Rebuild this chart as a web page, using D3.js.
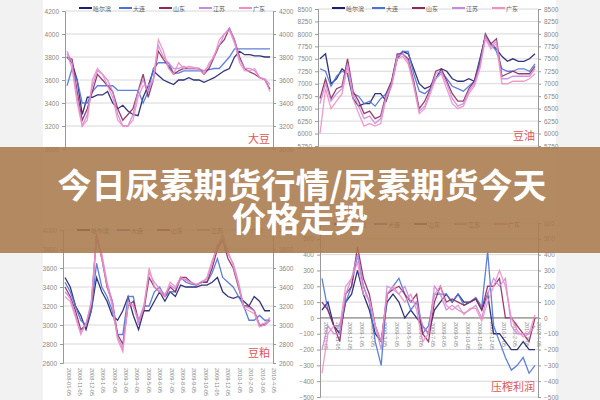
<!DOCTYPE html><html><head><meta charset="utf-8"><script src="https://d3js.org/d3.v7.min.js"></script>
<style>body{margin:0;background:#fff}</style></head><body><svg id="c" width="600" height="400"></svg>
<script>
const seriesNames=["哈尔滨","大连","山东","江苏","广东"];
const seriesColors=["#1c1f6b","#4d72d6","#8c2a5c","#c68be0","#f08fc4"];
const titleLines=["今日尿素期货行情/尿素期货今天","价格走势"];
// Panel 1 大豆
const p1Ticks=[3000,3200,3400,3600,3800,4000,4200];
const p1Hrb=[3800,3750,3600,3300,3450,3450,3470,3470,3500,3400,3350,3380,3330,3300,3290,3450,3550,3680,3640,3600,3580,3560,3600,3600,3620,3600,3600,3580,3600,3620,3650,3680,3700,3800,3850,3820,3820,3810,3810,3800,3800];
const p1Dl=[3550,3700,3600,3400,3400,3500,3550,3550,3550,3550,3510,3510,3510,3510,3510,3400,3500,3700,3750,3750,3750,3660,3660,3680,3680,3680,3680,3680,3690,3700,3700,3750,3800,3870,3870,3870,3870,3870,3870,3870,3870];
const p1Sd=[3800,3780,3500,3250,3350,3500,3650,3600,3550,3500,3350,3250,3300,3350,3500,3650,3450,3600,3850,3780,3720,3650,3680,3700,3700,3700,3700,3650,3700,3800,3900,3950,4050,3950,3800,3700,3670,3650,3620,3600,3520];
const p1Js=[3850,3750,3450,3200,3300,3550,3680,3650,3600,3500,3300,3200,3200,3300,3500,3600,3500,3600,3900,3800,3750,3700,3700,3720,3700,3700,3700,3680,3720,3820,3900,4000,4050,3950,3780,3700,3700,3680,3620,3610,3560];
const p1Gd=[3830,3700,3400,3200,3250,3600,3700,3650,3550,3450,3250,3200,3200,3250,3450,3550,3550,3600,3950,3850,3700,3650,3750,3700,3720,3710,3690,3650,3750,3800,3950,4000,4030,3920,3750,3680,3680,3700,3620,3600,3500];
// Panel 2 豆油
const p2Ticks=[5750,6000,6250,6500,6750,7000,7250,7500,7750,8000,8250,8500];
const p2Hrb=[7500,7600,7000,7100,7300,7200,6700,6550,6600,6600,6800,6800,6650,7000,7500,7650,7600,7300,7000,6900,6950,7100,7300,7250,7100,7050,7050,7100,7050,7500,7950,7800,7700,7550,7450,7500,7450,7450,7500,7600];
const p2Dl=[7300,7250,6950,7150,7250,7200,6800,6750,6600,6650,6550,6700,6800,7050,7550,7650,7650,7200,6850,6800,6900,7100,7250,7100,6950,6900,6850,6950,7050,7450,7950,7800,7650,7300,7250,7250,7300,7300,7250,7400];
const p2Sd=[6700,7100,6700,6900,6950,7500,6850,6650,6400,6450,6300,6350,6800,7050,7600,7600,7500,7050,6500,6650,6900,7250,7300,7050,6800,6650,6650,6900,7050,7400,8000,7800,7900,7150,7200,7250,7200,7200,7200,7350];
const p2Js=[6600,7000,6650,6800,6900,7400,6800,6550,6300,6350,6200,6300,6750,7000,7550,7600,7450,7000,6450,6550,6850,7200,7250,7000,6700,6550,6600,6850,7000,7350,7950,7750,7850,7100,7100,7150,7150,7150,7150,7300];
const p2Gd=[6000,6900,6500,6650,6800,7350,6700,6400,6150,6200,6150,6200,6700,6950,7500,7550,7400,6950,6400,6500,6800,7100,7200,6900,6600,6500,6550,6800,6950,7300,7900,7700,7800,7000,7000,7050,7050,7050,7100,7200];
// Panel 3 豆粕
const p3Ticks=[2600,2800,3000,3200,3400,3600,3800,4000];
const p3Dates=["08-01-05","08-11-05","08-12-05","09-1-05","09-2-05","09-3-05","09-4-05","09-5-05","09-6-05","09-7-05","09-8-05","09-9-05","09-10-05","09-11-05","09-12-05","10-1-05","10-2-05","10-3-05","10-4-05"];
const p3Hrb=[3500,3400,3200,3100,2950,3150,3500,3350,3250,3100,3050,3150,3300,3100,2950,3150,3150,3250,3350,3250,3350,3300,3420,3400,3400,3400,3420,3420,3450,3500,3350,3300,3280,3300,3250,3200,3300,3250,3150,3150];
const p3Dl=[3450,3350,3200,3050,3000,3150,3650,3400,3300,3150,2900,2900,3300,3300,3000,3200,3200,3350,3400,3300,3350,3350,3500,3450,3430,3420,3450,3450,3550,3700,3500,3450,3400,3300,3200,3050,3050,3100,3050,3050];
const p3Sd=[3400,3300,3150,2950,3000,3200,3950,3700,3400,3250,2900,2800,3200,3250,3050,3150,3500,3400,3350,3300,3400,3350,3500,3500,3450,3420,3450,3450,3600,3800,3900,3700,3600,3400,3200,3200,3150,3000,3000,3050];
const p3Js=[3350,3280,3100,2920,3000,3250,3900,3750,3450,3250,2880,2750,3250,3200,3050,3200,3550,3450,3380,3320,3420,3380,3480,3480,3450,3420,3460,3480,3650,3850,3900,3750,3650,3450,3200,3180,3150,3000,3020,3080];
const p3Gd=[3300,3250,3080,2900,3020,3220,3950,3700,3420,3200,2850,2720,3220,3200,3020,3180,3600,3400,3350,3300,3450,3400,3500,3470,3440,3430,3440,3500,3680,3820,3950,3780,3620,3420,3180,3150,3120,2980,3000,3050];
// Panel 4 压榨利润
const p4Ticks=[-500,-400,-300,-200,-100,0,100,200,300,400,500,600];
const p4Dates=["08-01-05","08-11-05","08-12-05","09-1-05","09-2-05","09-3-05","09-4-05","09-5-05","09-6-05","09-7-05","09-8-05","09-9-05","09-10-05","09-11-05","09-12-05","10-1-05","10-2-05","10-3-05","10-4-05"];
const p4Hrb=[50,100,-50,-100,100,150,300,150,50,-100,-150,100,150,100,0,50,0,-50,-100,50,100,150,100,150,100,100,120,50,150,-100,-100,-150,-200,-200,-150,-200,-200];
const p4Dl=[250,50,-50,-50,100,200,400,200,100,-150,-300,150,200,250,150,50,100,-100,-50,150,150,150,100,150,80,100,130,70,420,-50,-150,-250,-330,-300,-250,-350,-300];
const p4Sd=[100,50,-50,-150,150,200,450,250,150,-50,-150,150,180,200,150,100,150,-100,-150,100,200,100,120,100,80,100,120,50,200,200,250,0,0,-50,-100,-150,0];
const p4Js=[-200,-50,-100,-100,150,250,400,200,100,-50,-200,200,180,150,200,100,100,-50,-100,200,150,50,80,50,30,50,80,0,150,250,200,250,-50,-100,-100,-100,-50];
const p4Gd=[-350,-100,-50,-50,200,250,350,150,120,-50,-150,150,200,150,100,150,50,-150,-100,150,200,80,50,80,20,60,60,-20,100,200,300,200,0,-80,-120,-100,20];

const svg=d3.select("#c");
svg.append("rect").attr("width",600).attr("height",400).attr("fill","#fff");
svg.append("rect").attr("x",0).attr("width",43).attr("height",400).attr("fill","#f2f2f2");
svg.append("rect").attr("x",556).attr("width",44).attr("height",400).attr("fill","#f2f2f2");

function panel(o){
  const g=svg.append("g");
  const y=d3.scaleLinear().domain(o.dom).range(o.yr);
  const n=o.data[0].length;
  const x=d3.scaleLinear().domain([0,n-1]).range([o.x0+2,o.x1-3]);
  g.selectAll(".gl").data(o.ticks).join("line").attr("x1",o.x0).attr("x2",o.x1).attr("y1",d=>y(d)).attr("y2",d=>y(d)).attr("stroke","#d8d8d8").attr("stroke-width",1);
  const la=d3.axisLeft(y).tickValues(o.ticks).tickSize(3).tickFormat(d3.format("d"));
  const ra=d3.axisRight(y).tickValues(o.ticks).tickSize(3).tickFormat(d3.format("d"));
  [[la,o.x0],[ra,o.x1]].forEach(([a,xx])=>{const ax=g.append("g").attr("transform",`translate(${xx},0)`).call(a);
    ax.selectAll("path,line").attr("stroke","#999");ax.selectAll("text").attr("fill","#888").attr("font-size",6.5).attr("font-family","Liberation Sans");});
  if(o.zero!==undefined){g.append("line").attr("x1",o.x0).attr("x2",o.x1).attr("y1",y(o.zero)).attr("y2",y(o.zero)).attr("stroke","#777");}
  if(o.dates){const dx=d3.scalePoint().domain(o.dates).range([o.x0+2,o.x1-3]);
    g.selectAll(".dt").data(o.dates).join("text").attr("transform",d=>`translate(${dx(d)+2},${o.dy}) rotate(90)`).text(d=>"20"+d).attr("font-size",5.5).attr("fill","#888").attr("font-family","Liberation Sans");}
  const line=d3.line().x((d,i)=>x(i)).y(d=>y(d)).curve(d3.curveLinear);
  o.data.forEach((s,k)=>{g.append("path").attr("d",line(s)).attr("fill","none").attr("stroke",seriesColors[k]).attr("stroke-width",1.3).attr("opacity",0.9);});
  seriesNames.forEach((nm,k)=>{const lx=o.x0+14+k*40;
    g.append("line").attr("x1",lx).attr("x2",lx+13).attr("y1",o.ly).attr("y2",o.ly).attr("stroke",seriesColors[k]).attr("stroke-width",2);
    g.append("text").attr("x",lx+14).attr("y",o.ly+2.5).text(nm).attr("font-size",6).attr("fill","#555").attr("font-family","Noto Sans CJK SC");});
  g.append("text").attr("x",o.x1-3).attr("y",o.yr[0]-6).attr("text-anchor","end").text(o.label).attr("fill","#e05555").attr("font-size",11).attr("font-family","Noto Sans CJK SC");
}
panel({x0:65,x1:273,dom:[3000,4200],yr:[149,11],ticks:p1Ticks,data:[p1Hrb,p1Dl,p1Sd,p1Js,p1Gd],ly:8,label:"大豆"});
panel({x0:318,x1:538,dom:[5750,8500],yr:[146,9],ticks:p2Ticks,data:[p2Hrb,p2Dl,p2Sd,p2Js,p2Gd],ly:8,label:"豆油"});
panel({x0:63,x1:273,dom:[2600,4000],yr:[363,230],ticks:p3Ticks,data:[p3Hrb,p3Dl,p3Sd,p3Js,p3Gd],ly:230,label:"豆粕",dates:p3Dates,dy:368});
panel({x0:320,x1:538,dom:[-500,600],yr:[397,223],ticks:p4Ticks,data:[p4Hrb,p4Dl,p4Sd,p4Js,p4Gd],ly:224,label:"压榨利润",zero:0,dates:p4Dates,dy:322});
svg.append("rect").attr("x",0).attr("y",147).attr("width",600).attr("height",106).attr("fill","#a87a4c").attr("opacity",0.88);
titleLines.forEach((t,i)=>svg.append("text").attr("x",i?300:302).attr("y",198+i*34).attr("text-anchor","middle").text(t)
  .attr("fill","#fff").attr("font-size",34).attr("font-weight","bold").attr("font-family","Noto Sans CJK SC"));
</script></body></html>
